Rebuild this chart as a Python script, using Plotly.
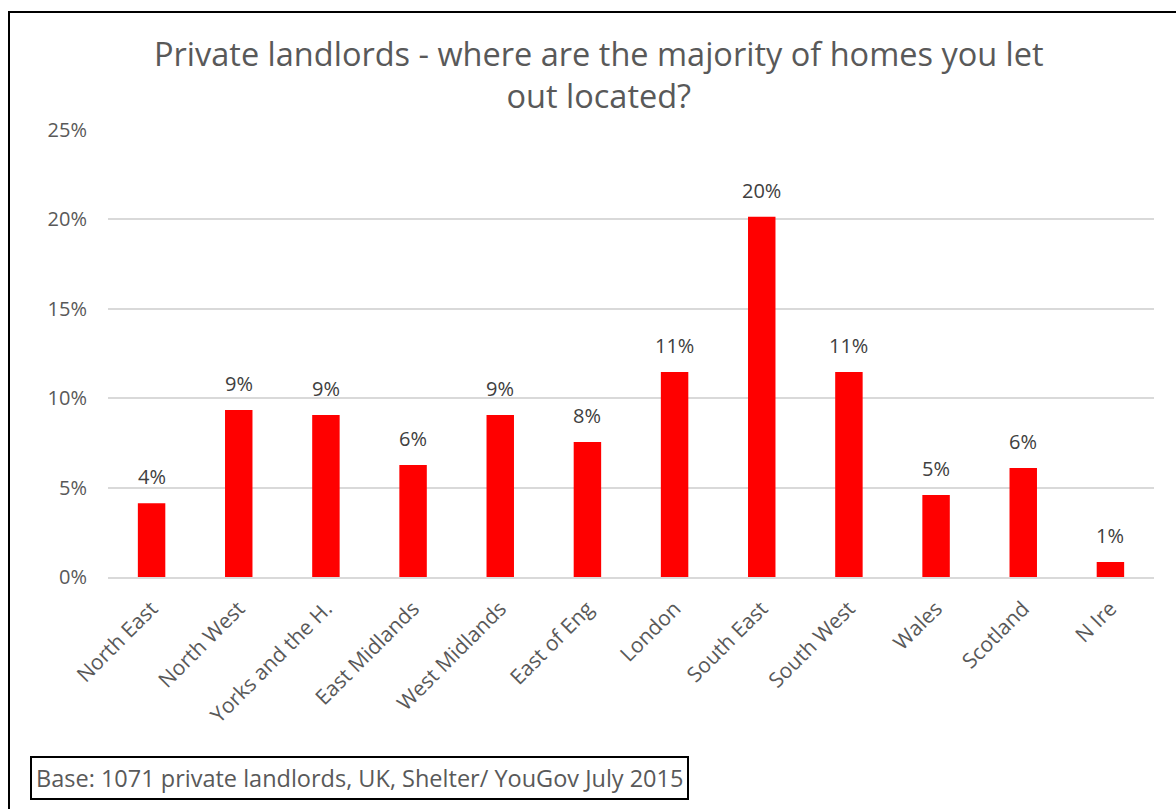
import plotly.graph_objects as go

# Regions and share of landlords whose homes are mostly in each
regions = ["North East", "North West", "Yorks and the H.", "East Midlands",
           "West Midlands", "East of Eng", "London", "South East",
           "South West", "Wales", "Scotland", "N Ire"]
share = [0.0412, 0.0934, 0.0906, 0.0626, 0.0906, 0.0755, 0.1147, 0.2015,
         0.1147, 0.0459, 0.0610, 0.0084]
y_ticks = [0, 0.05, 0.10, 0.15, 0.20, 0.25]

W, H = 1176, 809
L, R, T, B = 108, 22, 130, 232
pw, ph = W - L - R, H - T - B

def px(xp):
    return (xp - L) / pw

def py(yp):
    return (H - B - yp) / ph

FONT = "Open Sans"
GREY = "#595959"

fig = go.Figure(go.Bar(
    x=regions, y=share,
    marker=dict(color="#ff0000", line=dict(width=0)),
    width=0.315,
    cliponaxis=False,
))

# Value labels above each bar, formatted from the bar's own value
for r, v in zip(regions, share):
    fig.add_annotation(
        x=r, y=v, text=f"{v:.0%}", showarrow=False,
        xanchor="center", yanchor="bottom", yshift=11,
        font=dict(family=FONT, size=20, color="#404040"),
    )

fig.update_layout(
    width=W, height=H,
    margin=dict(l=L, r=R, t=T, b=B),
    paper_bgcolor="white", plot_bgcolor="white",
    showlegend=False,
    bargap=0.685,
)

# Two-line chart title
fig.add_annotation(
    text="Private landlords - where are the majority of homes you let<br>out located?",
    xref="paper", yref="paper", x=px(599), y=py(120),
    xanchor="center", yanchor="bottom", showarrow=False, align="center",
    font=dict(family=FONT, size=32.5, color=GREY),
)

fig.update_yaxes(
    range=[0, 0.25], tickvals=y_ticks, tickformat=".0%",
    showgrid=True, gridcolor="#d9d9d9", gridwidth=1.5,
    zeroline=False, showline=False, ticks="",
    tickfont=dict(family=FONT, size=20, color=GREY),
    ticklabelstandoff=20,
)
fig.update_xaxes(
    tickangle=-45, showline=True, linecolor="#d9d9d9", linewidth=2,
    ticks="", tickfont=dict(family=FONT, size=21, color=GREY),
    ticklabelstandoff=9,
)

# Outer chart frame (left and top edges show)
fig.add_shape(type="rect", xref="paper", yref="paper",
              x0=px(9), x1=px(W + 20), y0=py(H + 20), y1=py(12),
              line=dict(color="black", width=2), fillcolor="rgba(0,0,0,0)",
              layer="above")

# Source box
fig.add_annotation(
    text="Base: 1071 private landlords, UK, Shelter/ YouGov July 2015",
    xref="paper", yref="paper", x=px(30), y=py(800),
    xanchor="left", yanchor="bottom", showarrow=False, align="left",
    font=dict(family=FONT, size=23.5, color=GREY),
    bordercolor="black", borderwidth=2, borderpad=4, bgcolor="white",
)

fig.write_html("out.html")
